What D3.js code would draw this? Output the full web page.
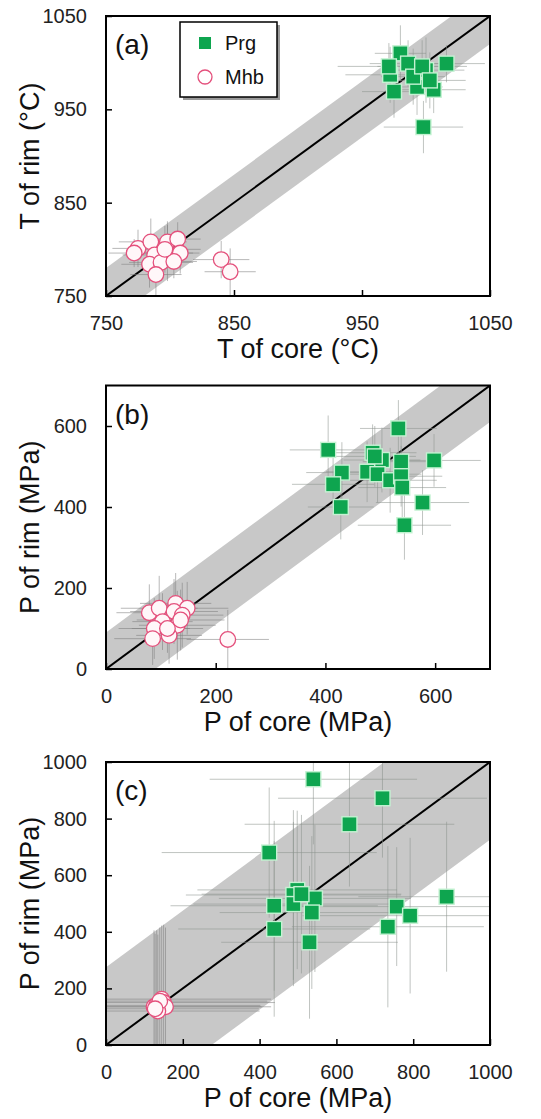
<!DOCTYPE html>
<html>
<head>
<meta charset="utf-8">
<script src="https://cdn.jsdelivr.net/npm/d3@7"></script>
<style>
  html, body { margin: 0; padding: 0; background: #fff; }
  svg { display: block; font-family: "Liberation Sans", Arial, sans-serif; }
</style>
</head>
<body>
<div id="chart"></div>
<script>
// (a) temperatura, Prg
const prgCoreA    = [980, 986, 972, 975, 1000, 993, 1006, 1016, 998, 990, 997, 971, 1003];
const prgRimA     = [1010, 999, 987, 969, 992, 974, 971, 999, 931, 985, 996, 996, 981];
const prgCoreErrA = [20, 30, 35, 25, 30, 20, 25, 30, 31, 25, 35, 40, 28];
const prgRimErrA  = [30, 25, 30, 28, 35, 30, 25, 20, 28, 30, 28, 25, 30];
// (a) temperatura, Mhb
const mhbCoreA    = [775, 785, 798, 806, 788, 798, 808, 784, 793, 803, 789, 772, 840, 847, 796];
const mhbRimA     = [801, 808, 808, 811, 794, 796, 796, 784, 786, 787, 773, 796, 789, 776, 800];
const mhbCoreErrA = [20, 25, 15, 18, 25, 20, 15, 22, 25, 18, 20, 20, 22, 20, 28];
const mhbRimErrA  = [20, 25, 22, 18, 20, 30, 22, 25, 20, 18, 22, 15, 20, 25, 25];

// (b) pressão, Prg
const prgCoreB    = [405, 430, 414, 428, 486, 503, 476, 495, 518, 538, 538, 540, 598, 577, 544, 533, 490];
const prgRimB     = [541, 485, 456, 400, 534, 516, 487, 481, 466, 512, 476, 448, 515, 411, 355, 594, 525];
const prgCoreErrB = [70, 65, 75, 60, 80, 70, 75, 80, 85, 70, 75, 80, 85, 85, 85, 70, 75];
const prgRimErrB  = [85, 75, 70, 80, 70, 80, 75, 70, 80, 70, 75, 80, 65, 80, 85, 70, 75];
// (b) pressão, Mhb
const mhbCoreB    = [79, 97, 127, 148, 124, 103, 130, 88, 115, 85, 139, 112, 136, 222];
const mhbRimB     = [139, 150, 162, 150, 142, 117, 108, 100, 83, 75, 133, 100, 121, 73];
const mhbCoreErrB = [60, 70, 65, 75, 80, 55, 70, 65, 60, 70, 75, 65, 80, 75];
const mhbRimErrB  = [70, 80, 75, 65, 80, 70, 85, 75, 70, 65, 80, 60, 75, 73];

// (c) pressão, Prg
const prgCoreC    = [540, 720, 634, 425, 498, 488, 544, 438, 488, 536, 438, 530, 757, 792, 734, 887, 509];
const prgRimC     = [939, 872, 780, 680, 548, 530, 518, 492, 498, 468, 410, 363, 489, 457, 418, 524, 533];
const prgCoreErrC = [270, 272, 273, 280, 260, 280, 250, 270, 260, 240, 250, 230, 270, 280, 250, 230, 260];
const prgRimErrC  = [230, 210, 220, 230, 280, 300, 260, 300, 290, 270, 310, 270, 210, 275, 285, 265, 280];
// (c) pressão, Mhb
const mhbCoreC    = [125, 132, 145, 150, 155, 135, 140, 128];
const mhbRimC     = [135, 140, 162, 150, 135, 120, 155, 128];
const mhbCoreErrC = [280, 270, 285, 290, 275, 265, 280, 270];
const mhbRimErrC  = [270, 265, 260, 275, 280, 270, 260, 265];

// eixos
const ticksA = [750, 850, 950, 1050];
const ticksB = [0, 200, 400, 600];
const ticksC = [0, 200, 400, 600, 800, 1000];

const largura = 541;
const altura = 1119;
const esquerda = 106, direita = 490;

const verde = "#0ea54f";
const rosa = "#e4507c";

const svg = d3.select("#chart").append("svg")
    .attr("width", largura)
    .attr("height", altura);

function pontos(core, rim, coreErr, rimErr) {
    return core.map((c, i) => ({ c: c, r: rim[i], ce: coreErr[i], re: rimErr[i] }));
}

function desenhaPainel(p) {
    const x = d3.scaleLinear().domain(p.domain).range([esquerda, direita]);
    const y = d3.scaleLinear().domain(p.domain).range([p.bottom, p.top]);
    const g = svg.append("g");

    const clipId = "clip-" + p.id;
    svg.append("clipPath").attr("id", clipId)
        .append("rect")
        .attr("x", esquerda).attr("y", p.top)
        .attr("width", direita - esquerda).attr("height", p.bottom - p.top);

    const area = g.append("g").attr("clip-path", `url(#${clipId})`);

    // faixa cinza em torno da linha 1:1
    const [d0, d1] = p.domain;
    const faixa = d3.area()
        .x(d => x(d))
        .y0(d => y(d - p.band))
        .y1(d => y(d + p.band));
    area.append("path")
        .datum([d0 - p.band, d1 + p.band])
        .attr("d", faixa)
        .attr("fill", "#c8c8c8");

    // linha 1:1
    area.append("line")
        .attr("x1", x(d0)).attr("y1", y(d0))
        .attr("x2", x(d1)).attr("y2", y(d1))
        .attr("stroke", "#000")
        .attr("stroke-width", 2);

    // barras de erro
    const todos = [
        { pts: p.mhb, cor: "#7d7d7d", op: 0.55 },
        { pts: p.prg, cor: "#8c948e", op: 0.55 }
    ];
    todos.forEach(s => {
        const eb = area.append("g")
            .attr("stroke", s.cor)
            .attr("stroke-opacity", s.op)
            .attr("stroke-width", 1);
        eb.selectAll(".h").data(s.pts).enter().append("line")
            .attr("x1", d => x(d.c - d.ce)).attr("x2", d => x(d.c + d.ce))
            .attr("y1", d => y(d.r)).attr("y2", d => y(d.r));
        eb.selectAll(".v").data(s.pts).enter().append("line")
            .attr("x1", d => x(d.c)).attr("x2", d => x(d.c))
            .attr("y1", d => y(d.r - d.re)).attr("y2", d => y(d.r + d.re));
    });

    // Mhb (círculos)
    g.append("g").selectAll("circle")
        .data(p.mhb).enter().append("circle")
        .attr("cx", d => x(d.c))
        .attr("cy", d => y(d.r))
        .attr("r", 7.8)
        .attr("fill", "#fff7f9")
        .attr("stroke", rosa)
        .attr("stroke-width", 1.3);

    // Prg (quadrados)
    const lado = 15;
    g.append("g").selectAll("rect")
        .data(p.prg).enter().append("rect")
        .attr("x", d => x(d.c) - lado / 2)
        .attr("y", d => y(d.r) - lado / 2)
        .attr("width", lado)
        .attr("height", lado)
        .attr("fill", verde)
        .attr("stroke", "#c4f2d2")
        .attr("stroke-width", 1.4);

    // eixos (ticks para dentro)
    const eixoX = g.append("g")
        .attr("transform", `translate(0,${p.bottom})`)
        .call(d3.axisBottom(x).tickValues(p.ticks).tickFormat(d3.format("d")).tickSize(-6).tickPadding(20));
    const eixoY = g.append("g")
        .attr("transform", `translate(${esquerda},0)`)
        .call(d3.axisLeft(y).tickValues(p.ticks).tickFormat(d3.format("d")).tickSize(-6).tickPadding(19));
    [eixoX, eixoY].forEach(e => {
        e.select(".domain").remove();
        e.selectAll(".tick line").attr("stroke", "#000").attr("stroke-width", 1.5);
        e.selectAll(".tick text")
            .attr("fill", "#222")
            .style("font-size", "20px")
            .style("font-family", "'Liberation Sans', Arial, sans-serif");
    });

    // moldura
    g.append("rect")
        .attr("x", esquerda).attr("y", p.top)
        .attr("width", direita - esquerda).attr("height", p.bottom - p.top)
        .attr("fill", "none")
        .attr("stroke", "#000")
        .attr("stroke-width", 2);

    // rótulo do painel
    g.append("text")
        .attr("x", esquerda + 9)
        .attr("y", p.top + 38)
        .style("font-size", "28px")
        .attr("fill", "#111")
        .text(p.label);

    // títulos
    g.append("text")
        .attr("x", (esquerda + direita) / 2)
        .attr("y", p.bottom + 62)
        .attr("text-anchor", "middle")
        .style("font-size", "27px")
        .attr("fill", "#111")
        .text(p.xTitle);

    g.append("text")
        .attr("transform", `translate(39,${(p.top + p.bottom) / 2}) rotate(-90)`)
        .attr("text-anchor", "middle")
        .style("font-size", "27px")
        .attr("fill", "#111")
        .text(p.yTitle);

    return g;
}

const painelA = desenhaPainel({
    id: "a", label: "(a)", top: 16, bottom: 296,
    domain: [750, 1050], ticks: ticksA, band: 30,
    prg: pontos(prgCoreA, prgRimA, prgCoreErrA, prgRimErrA),
    mhb: pontos(mhbCoreA, mhbRimA, mhbCoreErrA, mhbRimErrA),
    xTitle: "T of core (°C)", yTitle: "T of rim (°C)"
});

desenhaPainel({
    id: "b", label: "(b)", top: 385.5, bottom: 669,
    domain: [0, 700], ticks: ticksB, band: 90,
    prg: pontos(prgCoreB, prgRimB, prgCoreErrB, prgRimErrB),
    mhb: pontos(mhbCoreB, mhbRimB, mhbCoreErrB, mhbRimErrB),
    xTitle: "P of core (MPa)", yTitle: "P of rim (MPa)"
});

desenhaPainel({
    id: "c", label: "(c)", top: 762, bottom: 1045,
    domain: [0, 1000], ticks: ticksC, band: 275,
    prg: pontos(prgCoreC, prgRimC, prgCoreErrC, prgRimErrC),
    mhb: pontos(mhbCoreC, mhbRimC, mhbCoreErrC, mhbRimErrC),
    xTitle: "P of core (MPa)", yTitle: "P of rim (MPa)"
});

// Legenda (painel a)
const legenda = painelA.append("g");
legenda.append("rect")
    .attr("x", 183).attr("y", 25).attr("width", 97).attr("height", 75)
    .attr("fill", "#9a9a9a");
legenda.append("rect")
    .attr("x", 180).attr("y", 22).attr("width", 97).attr("height", 75)
    .attr("fill", "#fff")
    .attr("stroke", "#000")
    .attr("stroke-width", 1.5);
legenda.append("rect")
    .attr("x", 199).attr("y", 37).attr("width", 12).attr("height", 12)
    .attr("fill", verde);
legenda.append("circle")
    .attr("cx", 205).attr("cy", 77).attr("r", 7)
    .attr("fill", "#fff")
    .attr("stroke", rosa)
    .attr("stroke-width", 1.3);
legenda.append("text")
    .attr("x", 225).attr("y", 50)
    .style("font-size", "20px").attr("fill", "#111")
    .text("Prg");
legenda.append("text")
    .attr("x", 225).attr("y", 84)
    .style("font-size", "20px").attr("fill", "#111")
    .text("Mhb");
</script>
</body>
</html>
